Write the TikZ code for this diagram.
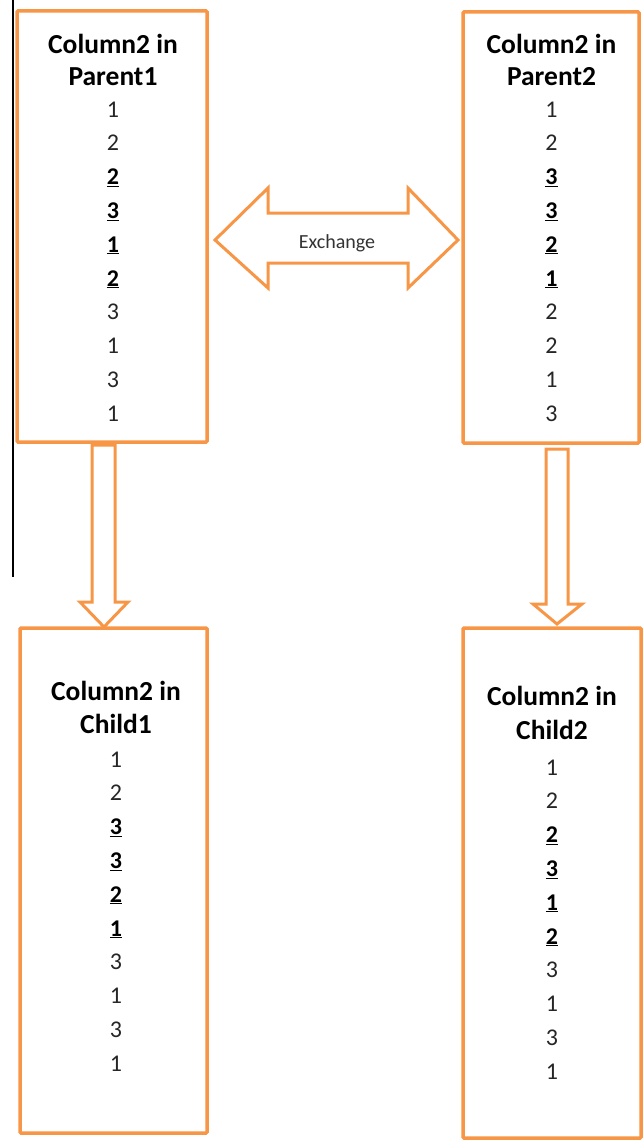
\documentclass[tikz,border=0pt]{standalone}
\usepackage{fontspec}
\setmainfont{Carlito}
\definecolor{accorange}{HTML}{F79646}
\begin{document}
\begin{tikzpicture}[x=1pt,y=-1pt,
  box/.style={draw=accorange, line width=3.5pt, rounded corners=1pt, fill=white, inner sep=0pt},
  blockarrow/.style={draw=accorange, line width=3pt, fill=white, line join=miter},
  ttl/.style={anchor=base, inner sep=0pt, font=\fontsize{27.5}{32}\selectfont\bfseries},
  num/.style={anchor=base, inner sep=0pt, font=\fontsize{24}{28}\selectfont, text=black!85},
  unum/.style={anchor=base, inner sep=0pt, font=\fontsize{24}{28}\selectfont\bfseries}
]
\useasboundingbox (0,0) rectangle (643,1140);
% thin vertical line at left edge
\draw[line width=1.3pt] (13,0) coordinate (ltop) -- (13,577) coordinate (lbot);

% boxes
\node[box, minimum width=190pt, minimum height=431pt] (p1) at (112,226.5) {};
\node[box, minimum width=176pt, minimum height=431pt] (p2) at (551,227.5) {};
\node[box, minimum width=187pt, minimum height=505pt] (c1) at (113.5,880.5) {};
\node[box, minimum width=178pt, minimum height=510pt] (c2) at (552,883) {};

% exchange double arrow
\path[blockarrow] (215,240) -- (268,188) -- (268,213) -- (408,213) -- (408,188)
  -- (458,240) -- (408,288) -- (408,263) -- (268,263) -- (268,288) -- cycle;
\node[anchor=base, inner sep=0pt, font=\fontsize{20}{24}\selectfont, text=black!80] (ex) at (337,248) {Exchange};

% down arrows
\path[blockarrow] (92,445) -- (115,445) -- (115,602) -- (128,602) -- (104,627)
  -- (80,602) -- (92,602) -- cycle;
\path[blockarrow] (546,449) -- (568,449) -- (568,604) -- (582,604) -- (557,624)
  -- (533,604) -- (546,604) -- cycle;

% Parent1
\node[ttl] (p1t1) at (113,53) {Column2 in};
\node[ttl] (p1t2) at (113,85) {Parent1};
\foreach \v/\u [count=\i from 0] in {1/0,2/0,2/1,3/1,1/1,2/1,3/0,1/0,3/0,1/0}{
  \ifnum\u=1 \node[unum] (p1n\i) at (113,117+33.8*\i) {\underline{\v}};
  \else \node[num] (p1n\i) at (113,117+33.8*\i) {\v};\fi
}
% Parent2
\node[ttl] (p2t1) at (551.5,53) {Column2 in};
\node[ttl] (p2t2) at (551.5,85) {Parent2};
\foreach \v/\u [count=\i from 0] in {1/0,2/0,3/1,3/1,2/1,1/1,2/0,2/0,1/0,3/0}{
  \ifnum\u=1 \node[unum] (p2n\i) at (551.5,117+33.8*\i) {\underline{\v}};
  \else \node[num] (p2n\i) at (551.5,117+33.8*\i) {\v};\fi
}
% Child1
\node[ttl] (c1t1) at (116,700) {Column2 in};
\node[ttl] (c1t2) at (116,733) {Child1};
\foreach \v/\u [count=\i from 0] in {1/0,2/0,3/1,3/1,2/1,1/1,3/0,1/0,3/0,1/0}{
  \ifnum\u=1 \node[unum] (c1n\i) at (116,767+33.8*\i) {\underline{\v}};
  \else \node[num] (c1n\i) at (116,767+33.8*\i) {\v};\fi
}
% Child2
\node[ttl] (c2t1) at (552,705) {Column2 in};
\node[ttl] (c2t2) at (552,739) {Child2};
\foreach \v/\u [count=\i from 0] in {1/0,2/0,2/1,3/1,1/1,2/1,3/0,1/0,3/0,1/0}{
  \ifnum\u=1 \node[unum] (c2n\i) at (552,775+33.8*\i) {\underline{\v}};
  \else \node[num] (c2n\i) at (552,775+33.8*\i) {\v};\fi
}
\end{tikzpicture}
\end{document}
